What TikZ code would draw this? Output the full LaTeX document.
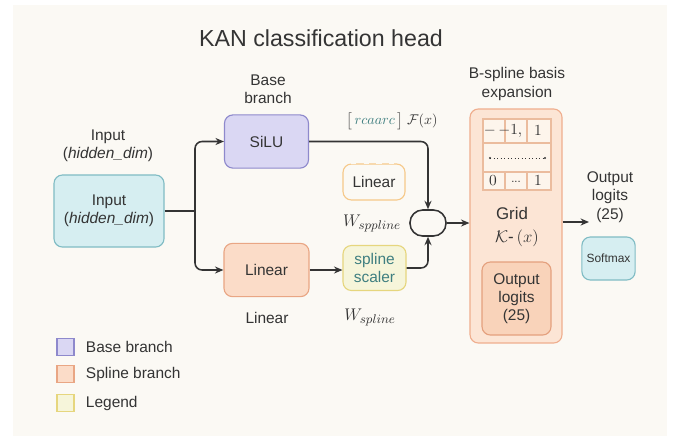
\documentclass[tikz,border=0pt]{standalone}
\usepackage{fontspec}
\setmainfont{Liberation Sans}
\usetikzlibrary{arrows.meta}

\definecolor{cream}{RGB}{251,249,244}
\definecolor{inkgray}{RGB}{52,52,52}
\definecolor{basefill}{RGB}{218,215,243}
\definecolor{baseline}{RGB}{142,137,204}
\definecolor{splfill}{RGB}{251,220,200}
\definecolor{splline}{RGB}{233,166,132}
\definecolor{legfill}{RGB}{246,245,218}
\definecolor{legline}{RGB}{230,214,126}
\definecolor{infill}{RGB}{214,238,241}
\definecolor{inline}{RGB}{128,188,196}
\definecolor{bsfill}{RGB}{252,229,213}
\definecolor{bsline}{RGB}{239,174,142}
\definecolor{outfill}{RGB}{249,211,186}
\definecolor{outline}{RGB}{228,160,126}
\definecolor{tabfill}{RGB}{253,245,236}
\definecolor{tabline}{RGB}{235,188,158}
\definecolor{tealtxt}{RGB}{63,127,128}
\definecolor{fadeline}{RGB}{246,201,138}

\begin{document}
\begin{tikzpicture}[x=0.025cm,y=-0.025cm,
  font=\fontsize{11}{13}\selectfont, text=inkgray,
  box/.style={shape=rectangle, rounded corners=6pt, line width=0.8pt, align=center},
  lbl/.style={shape=rectangle, draw=none, align=center},
  arr/.style={line width=1.1pt, draw=inkgray, -{Stealth[length=6pt,width=5pt]}},
  wire/.style={line width=1.1pt, draw=inkgray},
  legsq/.style={shape=rectangle, line width=0.8pt, minimum size=0.425cm, inner sep=0pt}]
%%%%%%%%%%%%%%%%%%%%%%%%%%%%%%%%%%%%%%%%%%% HELP LINES
%\draw[help lines] (0,0) grid +(688,436);
\useasboundingbox (0,0) rectangle (688,436);
\fill[cream] (13,5) rectangle (667,436);

%%%%%%%%%%%%%%%%%%%%%%%%%%%%%%%%%%%%%%%%%%% title
\node[lbl, font=\fontsize{16.5}{19}\selectfont](title) at (321,38){KAN classification head};

%%%%%%%%%%%%%%%%%%%%%%%%%%%%%%%%%%%%%%%%%%% input
\node[lbl](inputlbl) at (108,146){Input\\(\textit{hidden\_dim})};
\node[box, draw=inline, fill=infill, minimum width=2.75cm, minimum height=1.8cm](input) at (109,211){Input\\(\textit{hidden\_dim})};
\coordinate (fork) at (195,211);

%%%%%%%%%%%%%%%%%%%%%%%%%%%%%%%%%%%%%%%%%%% branches
\node[lbl](baselbl) at (268,89){Base\\branch};
\node[box, draw=baseline, fill=basefill, minimum width=2.1cm, minimum height=1.33cm](silu) at (266.5,141.5){SiLU};
\node[box, draw=splline, fill=splfill, minimum width=2.125cm, minimum height=1.33cm](linear) at (266.5,270){Linear};
\node[lbl](linearlbl) at (267,318){Linear};

\node[lbl, font=\fontsize{10}{12}\selectfont](fxlbl) at (392,121){$\bigl[\,\textcolor{tealtxt}{rcaarc}\,\bigr]\;\mathcal{F}(x)$};
\node[box, draw=fadeline, fill=cream, minimum width=1.55cm, minimum height=0.9cm](fadelin) at (374,182){Linear};
\draw[cream, line width=1.2pt, dash pattern=on 4pt off 5pt] ([xshift=6pt]fadelin.north west) -- ([xshift=-6pt]fadelin.north east);
\node[lbl, font=\fontsize{13}{15}\selectfont](wsppline) at (372,223){$W_{sppline}$};
\node[box, draw=legline, fill=legfill, text=tealtxt, minimum width=1.575cm, minimum height=1.125cm](scaler) at (374.5,268){spline\\scaler};
\node[lbl, font=\fontsize{13}{15}\selectfont](wspline) at (370,317){$W_{spline}$};

\node[shape=rectangle, rounded corners=9pt, draw=inkgray, line width=1.1pt, fill=cream, minimum width=0.9cm, minimum height=0.65cm](merge) at (428,223){};

%%%%%%%%%%%%%%%%%%%%%%%%%%%%%%%%%%%%%%%%%%% B-spline expansion
\node[lbl](bslbl) at (517,84){B-spline basis\\expansion};
\node[box, draw=bsline, fill=bsfill, minimum width=2.3cm, minimum height=5.85cm](bspline) at (516,226){};
\fill[tabfill] (483,119) rectangle (551,190);
\draw[tabline, line width=0.8pt] (483,119) rectangle (551,190);
\draw[tabline, line width=0.8pt] (483,143) -- (551,143) (483,172) -- (551,172);
\draw[tabline, line width=0.8pt] (505,119) -- (505,143) (527,119) -- (527,143);
\draw[tabline, line width=0.8pt] (505,172) -- (505,190) (527,172) -- (527,190);
\node[lbl](c11) at (503,131){$-\,{-}1,$};
\node[lbl](c13) at (538,131){$1$};
\draw[inkgray, line width=0.5pt, dotted] (490,158) -- (545,158);
\fill[inkgray] (490,158) circle (1.2) (545,158) circle (1.2);
\node[lbl](c31) at (493,181){$0$};
\node[lbl, font=\fontsize{8}{9}\selectfont](c32) at (516,182){...};
\node[lbl](c33) at (538,181){$1$};
\node[lbl, font=\fontsize{12}{14}\selectfont](gridlbl) at (512,213){Grid};
\node[lbl, font=\fontsize{12}{14}\selectfont](kernel) at (517,238){$\mathcal{K}\mbox{-}\,(x)$};
\node[box, draw=outline, fill=outfill, minimum width=1.725cm, minimum height=1.825cm](outin) at (516.5,298.5){Output\\logits\\(25)};

%%%%%%%%%%%%%%%%%%%%%%%%%%%%%%%%%%%%%%%%%%% output
\node[lbl](outlbl) at (610,197){Output\\logits\\(25)};
\node[box, draw=inline, fill=infill, minimum width=1.275cm, minimum height=1.075cm, font=\fontsize{8.5}{10}\selectfont](softmax) at (608.5,258.5){Softmax};
\coordinate (outend) at (589,222);

%%%%%%%%%%%%%%%%%%%%%%%%%%%%%%%%%%%%%%%%%%% connectors
\draw[wire] (input) -- (fork);
\draw[arr, rounded corners=5pt] (fork) |- (silu);
\draw[arr, rounded corners=5pt] (fork) |- (linear);
\draw[arr] (linear) -- (scaler.west |- linear);
\draw[arr, rounded corners=5pt] (silu) -| (merge.north);
\draw[arr, rounded corners=5pt] (scaler) -| (merge.south);
\draw[arr] (merge) -- (merge -| bspline.west);
\draw[arr] (bspline.east |- outend) -- (outend);

%%%%%%%%%%%%%%%%%%%%%%%%%%%%%%%%%%%%%%%%%%% legend
\node[legsq, draw=baseline, fill=basefill](legbase) at (65.5,347){};
\node[lbl, anchor=west](legbasetxt) at (81,347){Base branch};
\node[legsq, draw=splline, fill=splfill](legspl) at (65.5,374){};
\node[lbl, anchor=west](legspltxt) at (81,374){Spline branch};
\node[legsq, draw=legline, fill=legfill](legleg) at (65.5,403){};
\node[lbl, anchor=west](leglegtxt) at (81,403){Legend};
\end{tikzpicture}
\end{document}
